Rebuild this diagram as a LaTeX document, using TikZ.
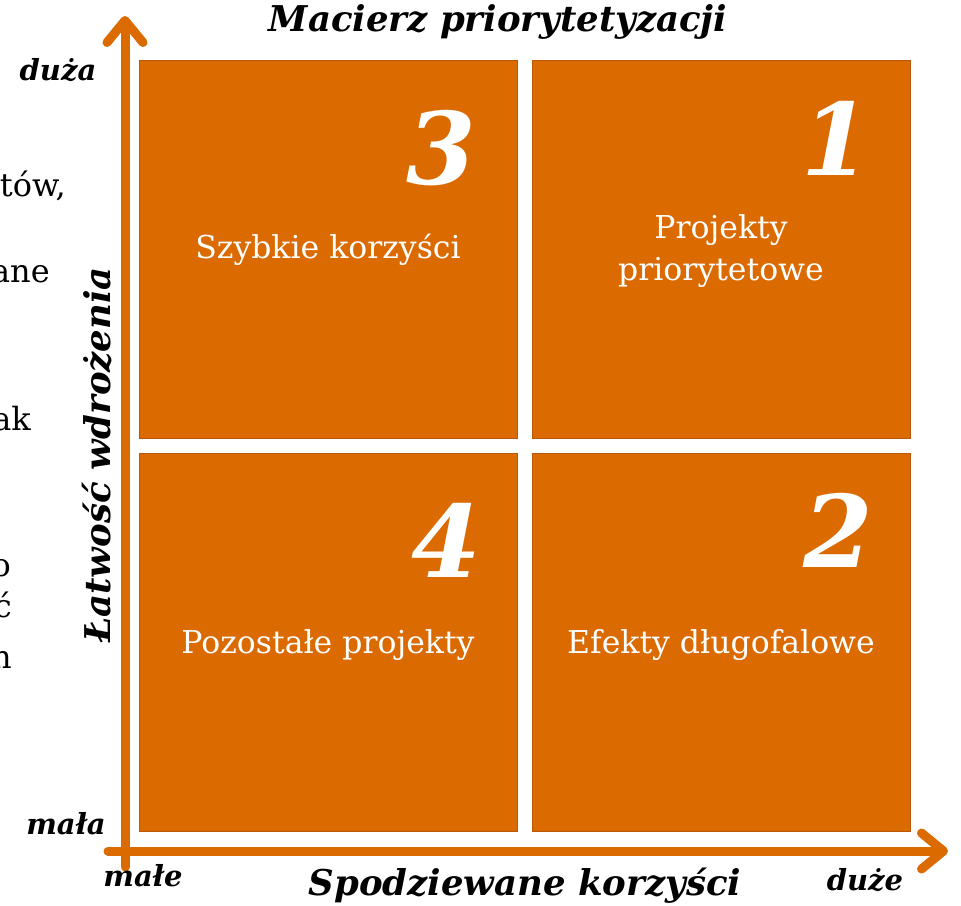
\documentclass[tikz,border=0pt]{standalone}
\usepackage{fontspec}
\setmainfont{DejaVu Serif}
\usetikzlibrary{arrows.meta}
\definecolor{quadfill}{RGB}{219,106,0}
\definecolor{quadedge}{RGB}{184,88,10}
\tikzset{
  quad/.style={draw=quadedge, line width=0.8pt, fill=quadfill, minimum width=378pt, minimum height=378pt, inner sep=0pt},
  axis/.style={draw=quadfill, line width=9pt, line cap=round, -{Straight Barb[length=22pt, width=36pt, round]}},
  qlabel/.style={text=white, font=\fontsize{31.5}{42}\selectfont, align=center, inner sep=0pt},
  qnum/.style={text=white, font=\fontsize{100}{100}\selectfont\bfseries\itshape, inner sep=0pt},
  axlabel/.style={font=\fontsize{35.5}{38}\selectfont\bfseries\itshape, inner sep=0pt},
  endlabel/.style={font=\fontsize{29}{32}\selectfont\bfseries\itshape, inner sep=0pt},
  sidetext/.style={font=\fontsize{32}{34}\selectfont, anchor=base east, inner sep=0pt}
}
\begin{document}
\begin{tikzpicture}[x=1pt, y=-1pt]
\useasboundingbox (0,0) rectangle (961,905);

% fragments of the adjoining text column
\node[sidetext] (s1) at (66,196) {tów,};
\node[sidetext] (s2) at (50,282) {ane};
\node[sidetext] (s3) at (31,430) {ak};
\node[sidetext] (s4) at (11,576) {o};
\node[sidetext] (s5) at (12,617) {ć};
\node[sidetext] (s6) at (12,668) {n};

% the four quadrants
\node[quad] (q3) at (328,249) {};
\node[quad] (q1) at (721,249) {};
\node[quad] (q4) at (328,642) {};
\node[quad] (q2) at (721,642) {};

\node[qlabel] (t3) at (328,250) {Szybkie korzyści};
\node[qlabel] (t1) at (721,251) {Projekty\\priorytetowe};
\node[qlabel] (t4) at (328,645) {Pozostałe projekty};
\node[qlabel] (t2) at (721,645) {Efekty długofalowe};

\node[qnum] (n3) at (441,148) {3};
\node[qnum] (n1) at (836,138) {1};
\node[qnum] (n4) at (446,540) {4};
\node[qnum] (n2) at (838,530) {2};

% axes
\coordinate (ybot) at (125,867);
\coordinate (ytop) at (125,16);
\coordinate (xleft) at (108,851);
\coordinate (xright) at (948,851);
\draw[axis] (ybot) -- (ytop);
\draw[axis] (xleft) -- (xright);

% titles and axis labels
\node[axlabel] (title) at (498,22) {Macierz priorytetyzacji};
\node[axlabel] (xlab) at (525,886) {Spodziewane korzyści};
\node[axlabel, rotate=90] (ylab) at (97,455) {Łatwość wdrożenia};
\node[endlabel] (ymax) at (58,70) {duża};
\node[endlabel] (ymin) at (66,824) {mała};
\node[endlabel] (xmin) at (143,876) {małe};
\node[endlabel] (xmax) at (865,880) {duże};
\end{tikzpicture}
\end{document}
